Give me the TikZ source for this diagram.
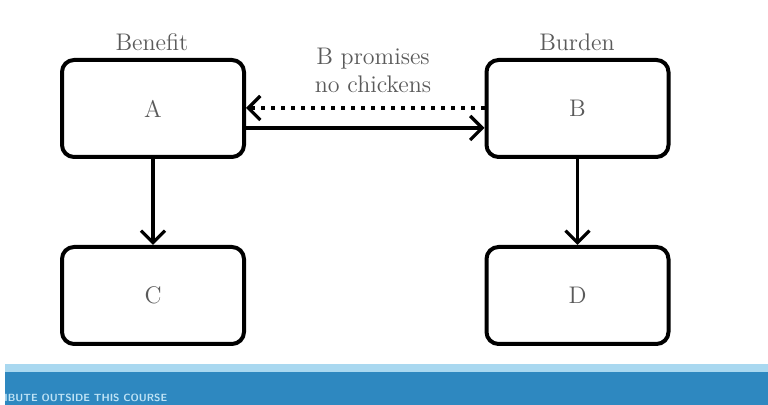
\documentclass[tikz,border=0pt]{standalone}
\usepackage{xcolor}
\usepackage{tikz}
\usetikzlibrary{arrows.meta}

\definecolor{textgray}{HTML}{5A5A5A}
\definecolor{bandblue}{HTML}{2E88C0}
\definecolor{bandlight}{HTML}{A9D8F0}
\definecolor{bandtext}{HTML}{BFE3F5}

\begin{document}
\begin{tikzpicture}[x=0.5pt,y=-0.5pt,
    party/.style={draw,line width=2pt,rounded corners=6pt,minimum width=91pt,minimum height=48.5pt,text=textgray,font=\fontsize{12}{14}\selectfont},
    tag/.style={text=textgray,font=\fontsize{12}{14}\selectfont},
    link/.style={line width=1.6pt,-{Straight Barb[length=6pt,width=12pt,line width=1.6pt]}}]
            \useasboundingbox (0,0) rectangle (768,405);

            % Bottom band
            \fill[white] (0,0) rectangle (768,405);
            \fill[bandlight] (5,364) rectangle (768,373);
            \fill[bandblue] (5,372) rectangle (768,405);
            \node[anchor=base west,text=bandtext,font=\sffamily\bfseries\fontsize{5.2}{6}\selectfont,inner sep=0pt] (footer) at (4,402) {IBUTE OUTSIDE THIS COURSE};

            % Boxes
            \node[party] (A) at (153,108.5) {A};
            \node[party] (B) at (577.5,108.5) {B};
            \node[party] (C) at (153,295.5) {C};
            \node[party] (D) at (577.5,295.5) {D};

            % Labels
            \node[tag] (benefit) at (152,42) {Benefit};
            \node[tag] (burden) at (577,42) {Burden};
            \node[tag,align=center,inner sep=0pt] (promise) at (373,70) {B promises\\no chickens};

            % Arrows
            \draw[link,dash pattern=on 2pt off 3pt] ([yshift=0.25pt]B.west) -- ([yshift=0.25pt]A.east);
            \draw[link] ([yshift=-9.75pt]A.east) -- ([yshift=-9.75pt]B.west);
            \draw[link] (A) -- (C);
            \draw[link] (B) -- (D);
        \end{tikzpicture}
\end{document}
